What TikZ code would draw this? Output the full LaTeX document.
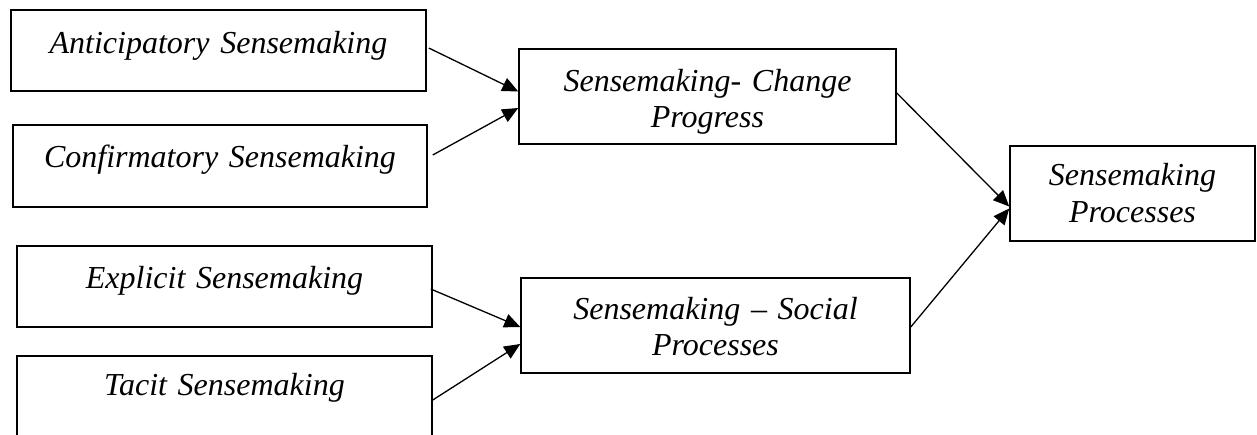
\documentclass[tikz,border=0pt]{standalone}
\usepackage{fontspec}
\setmainfont{Liberation Serif}
\usetikzlibrary{arrows.meta,calc}

\begin{document}
\begin{tikzpicture}[x=0.5pt,y=-0.5pt,
  box/.style={draw, line width=0.75pt, inner sep=0pt, align=center,
    font=\fontsize{16}{18.4}\selectfont\itshape},
  link/.style={line width=0.65pt, -{Triangle[length=8pt,width=7pt]}}]
  \useasboundingbox (0,0) rectangle (1257,434);

  % left column: four single-line boxes
  \node[box, minimum width=207.5pt, minimum height=40.5pt, text width=195pt,
        text height=2.5pt, text depth=0pt] (ant) at (218.5,50.5) {Anticipatory Sensemaking};
  \node[box, minimum width=207pt, minimum height=41pt, text width=195pt,
        text height=1pt, text depth=0pt] (conf) at (220,166) {Confirmatory Sensemaking};
  \node[box, minimum width=207.5pt, minimum height=40.5pt, text width=195pt,
        text height=1.5pt, text depth=0pt] (expl) at (224.5,286.5) {Explicit Sensemaking};
  \node[box, minimum width=207.5pt, minimum height=40.5pt, text width=195pt,
        text height=0pt, text depth=1.5pt] (tac) at (224.5,396.5) {Tacit Sensemaking};

  % middle column
  \node[box, minimum width=188.5pt, minimum height=47.5pt, text width=175pt,
        text height=0pt, text depth=5.5pt] (chg) at (707.5,96.5) {Sensemaking- Change\\Progress};
  \node[box, minimum width=194.5pt, minimum height=47.5pt, text width=180pt,
        text height=0pt, text depth=6.5pt] (soc) at (715.5,325.5) {Sensemaking -- Social\\Processes};

  % right column
  \node[box, minimum width=122.5pt, minimum height=47.5pt, text width=112pt,
        text height=0pt, text depth=8pt] (proc) at (1132.5,193.5) {Sensemaking\\Processes};

  % connectors
  \draw[link] ($(ant.east)+(2,-2.5)$) -- ($(chg.west)+(0,-5)$);
  \draw[link] ($(conf.east)+(5,-11)$) -- ($(chg.west)+(0,11.5)$);
  \draw[link] ($(expl.east)+(-2,2.5)$) -- ($(soc.west)+(0,1.5)$);
  \draw[link] ($(tac.east)+(0,3.5)$) -- ($(soc.west)+(0,18.5)$);
  \draw[link] ($(chg.east)+(-1,-4.5)$) -- ($(proc.west)+(0,13)$);
  \draw[link] ($(soc.east)+(0,1.5)$) -- ($(proc.west)+(0,15)$);
\end{tikzpicture}
\end{document}
